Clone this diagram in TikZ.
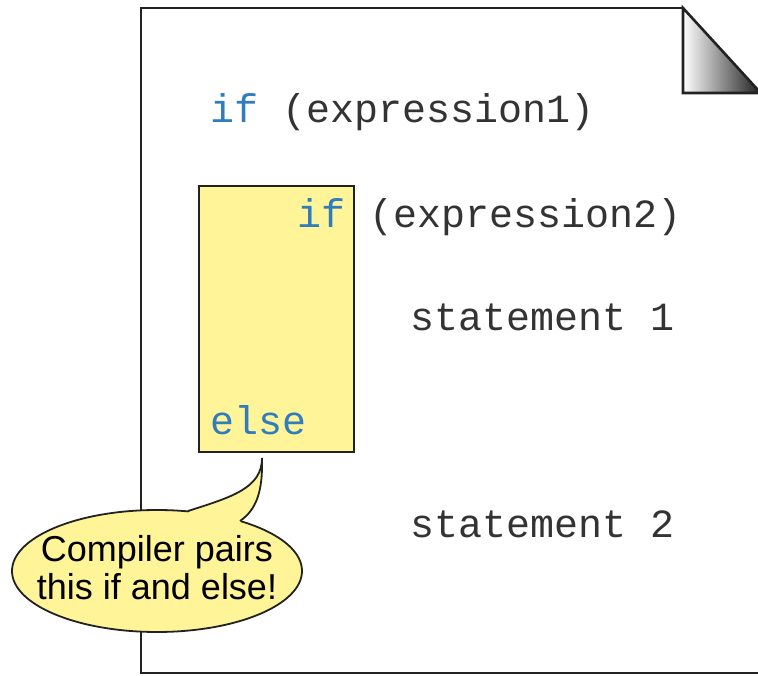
\documentclass[tikz,border=0pt]{standalone}
\usepackage{fontspec}
\newfontfamily\codefont{Liberation Mono}
\newfontfamily\notefont{Liberation Sans}
\definecolor{keyword}{HTML}{2F7DBE}
\definecolor{codetext}{HTML}{333333}
\definecolor{note}{HTML}{FFF498}
\definecolor{edge}{HTML}{222222}

\tikzset{
  code/.style={anchor=base west, inner sep=0pt, text=codetext,
    font=\codefont\fontsize{40}{48}\selectfont}
}

\begin{document}
\begin{tikzpicture}[x=1pt,y=-1pt]
  \useasboundingbox (0,0) rectangle (758,676);

  % Page with folded corner
  \draw[edge,line width=2.6pt] (758,673) -- (141,673) -- (141,8) -- (683,8);
  \shade[left color=white, right color=black!85] (683,8) -- (758,90) -- (758,93) -- (683,93) -- cycle;
  \draw[edge,line width=2.6pt,line join=miter] (758,90) -- (683,8) -- (683,93) -- (758,93);

  % Highlight of the inner if / else
  \node[draw=edge, fill=note, line width=2.6pt, minimum width=155pt, minimum height=266pt,
    inner sep=0pt] (pairbox) at (276.5,319) {};

  % Code lines
  \node[code] (outerif) at (210,123) {{\color{keyword}if} (expression1)};
  \node[code] (innerif) at (297,228) {{\color{keyword}if} (expression2)};
  \node[code] (stmtone) at (410,331) {statement 1};
  \node[code] (elsekw) at (210,434) {\color{keyword}else};
  \node[code] (stmttwo) at (410,537) {statement 2};

  % Speech bubble
  \draw[edge, fill=note, line width=1.8pt] (157,571) ellipse [x radius=145, y radius=61];
  \coordinate (tip) at (262,458);
  \fill[note] (188,512) .. controls (232,497) and (262,488) .. (tip)
    .. controls (263,492) and (256,510) .. (240,522) -- (215,545) -- cycle;
  \draw[edge,line width=1.8pt] (188,511) .. controls (232,497) and (262,488) .. (tip)
    .. controls (263,492) and (256,510) .. (240,521);
  \node[align=center, inner sep=0pt, font=\notefont\fontsize{36}{38}\selectfont]
    (bubble) at (157,568) {Compiler pairs\\this if and else!};
\end{tikzpicture}
\end{document}
